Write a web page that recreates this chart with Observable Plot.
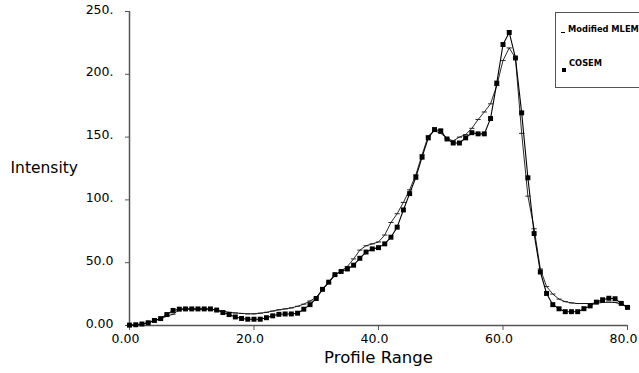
<!DOCTYPE html>
<html><head><meta charset="utf-8">
<script src="https://cdn.jsdelivr.net/npm/d3@7"></script>
<script src="https://cdn.jsdelivr.net/npm/@observablehq/plot@0.6"></script>
<style>
html,body{margin:0;padding:0;background:#fff;overflow:hidden;}
#wrap{position:relative;width:639px;height:373px;overflow:hidden;}
.legend{position:absolute;left:555px;top:12px;width:110px;height:74px;border:1px solid #555;font:bold 8.3px "DejaVu Sans";color:#000;line-height:1;}
.legend span{position:absolute;white-space:nowrap;}
</style></head><body><div id="wrap"></div>
<script>
const profileRange = [0,1,2,3,4,5,6,7,8,9,10,11,12,13,14,15,16,17,18,19,20,21,22,23,24,25,26,27,28,29,30,31,32,33,34,35,36,37,38,39,40,41,42,43,44,45,46,47,48,49,50,51,52,53,54,55,56,57,58,59,60,61,62,63,64,65,66,67,68,69,70,71,72,73,74,75,76,77,78,79,80];
const cosem = [0.3,0.6,1.2,2.2,4,5.5,8.7,12,13,13.2,13.2,13.2,13.2,13.2,12.3,10.3,8.7,6.8,5.6,5,5,5,6.2,7.7,8.9,9.2,9.2,9.8,13,16.6,21.5,28.8,34.5,40.5,43,45,48,53.5,58.5,61,62,65,70.3,78.3,92,105,118,134,149.4,156,155,148.5,145.3,145.3,149.4,153.5,152.6,152.6,164.8,193,223.7,233.3,213,169.3,117.6,73.2,42.6,25.5,16.6,13.3,11,11,11,13.4,15.6,18.6,20.5,21.7,21.3,17.6,14.4];
const mlem = [0.3,0.6,1.2,2.2,3.8,5.2,7.5,9,12.6,13,13,13,13,12.8,12.3,11.5,10.5,10,9.6,9.3,9.3,9.8,10.5,11.5,12.5,13.2,14,15.3,17,19.5,22.5,28.5,34,40,43.5,47,53,60,63.5,65,66.5,72,82,89,98,108,120,136,151,155,153,149,147,150,152,157,164,170,176.5,191,211,221,213,153,103,77,45,31,25,21,19,18,17.5,17.5,17.5,17.8,18.3,18.6,18.3,17,14.5];
const yTicks = [0,50,100,150,200,250];
const yTickLabels = ["0.00","50.0","100.","150.","200.","250."];
const xTicks = [0,20,40,60,80];
const xTickLabels = ["0.00","20.0","40.0","60.0","80.0"];
const seriesNames = ["Modified MLEM","COSEM"];

const cosemData = profileRange.map((x,i)=>({x, y: cosem[i]}));
const mlemData = profileRange.map((x,i)=>({x, y: mlem[i]}));

const dash = {draw(ctx, size){ const r = Math.sqrt(size/Math.PI); ctx.moveTo(-r,0); ctx.lineTo(r,0); }};

const chart = Plot.plot({
  width: 639, height: 373,
  marginLeft: 129, marginRight: 12, marginTop: 11, marginBottom: 48,
  style: {fontFamily: "DejaVu Sans", fontSize: "12.5px", background: "#fff", color: "#000"},
  x: {domain: [0,80]},
  y: {domain: [0,250]},
  marks: [
    Plot.ruleX([0], {stroke: "#555", strokeWidth: 1.5}),
    Plot.ruleY([0], {stroke: "#555", strokeWidth: 1.5}),
    Plot.axisY(yTicks, {label: null, tickSize: 4, stroke: "#555", tickFormat: () => ""}),
    Plot.axisY(yTicks, {label: null, tickSize: 0, tickPadding: 16, dy: -2, tickFormat: d => yTickLabels[yTicks.indexOf(d)]}),
    Plot.axisX(xTicks, {label: null, tickSize: 5, stroke: "#555", tickFormat: () => ""}),
    Plot.axisX(xTicks, {label: null, tickSize: 0, tickPadding: 9, dx: -4, tickFormat: d => xTickLabels[xTicks.indexOf(d)]}),
    Plot.line(mlemData, {x: "x", y: "y", stroke: "#111", strokeWidth: 0.9}),
    Plot.dot(mlemData, {x: "x", y: "y", symbol: dash, r: 2.6, stroke: "#111", strokeWidth: 0.9, fill: "none"}),
    Plot.line(cosemData, {x: "x", y: "y", stroke: "#000", strokeWidth: 1.1}),
    Plot.dot(cosemData, {x: "x", y: "y", symbol: "square", r: 2.8, fill: "#000", stroke: "none"}),
    Plot.text(["Intensity"], {frameAnchor: "left", dx: -119, textAnchor: "start", text: d => d, fontSize: 15.5}),
    Plot.text(["Profile Range"], {frameAnchor: "bottom", dy: 32, text: d => d, fontSize: 16.5, lineAnchor: "middle"})
  ]
});
const wrap = document.getElementById("wrap");
wrap.appendChild(chart);
const lg = document.createElement("div");
lg.className = "legend";
lg.innerHTML = `<div style="position:absolute;left:5px;top:19px;width:4px;border-top:1px solid #000"></div>
<span style="left:12px;top:12px">${seriesNames[0]}</span>
<div style="position:absolute;left:6px;top:55px;width:4px;height:4px;background:#000"></div>
<span style="left:13px;top:46px">${seriesNames[1]}</span>`;
wrap.appendChild(lg);
</script></body></html>
